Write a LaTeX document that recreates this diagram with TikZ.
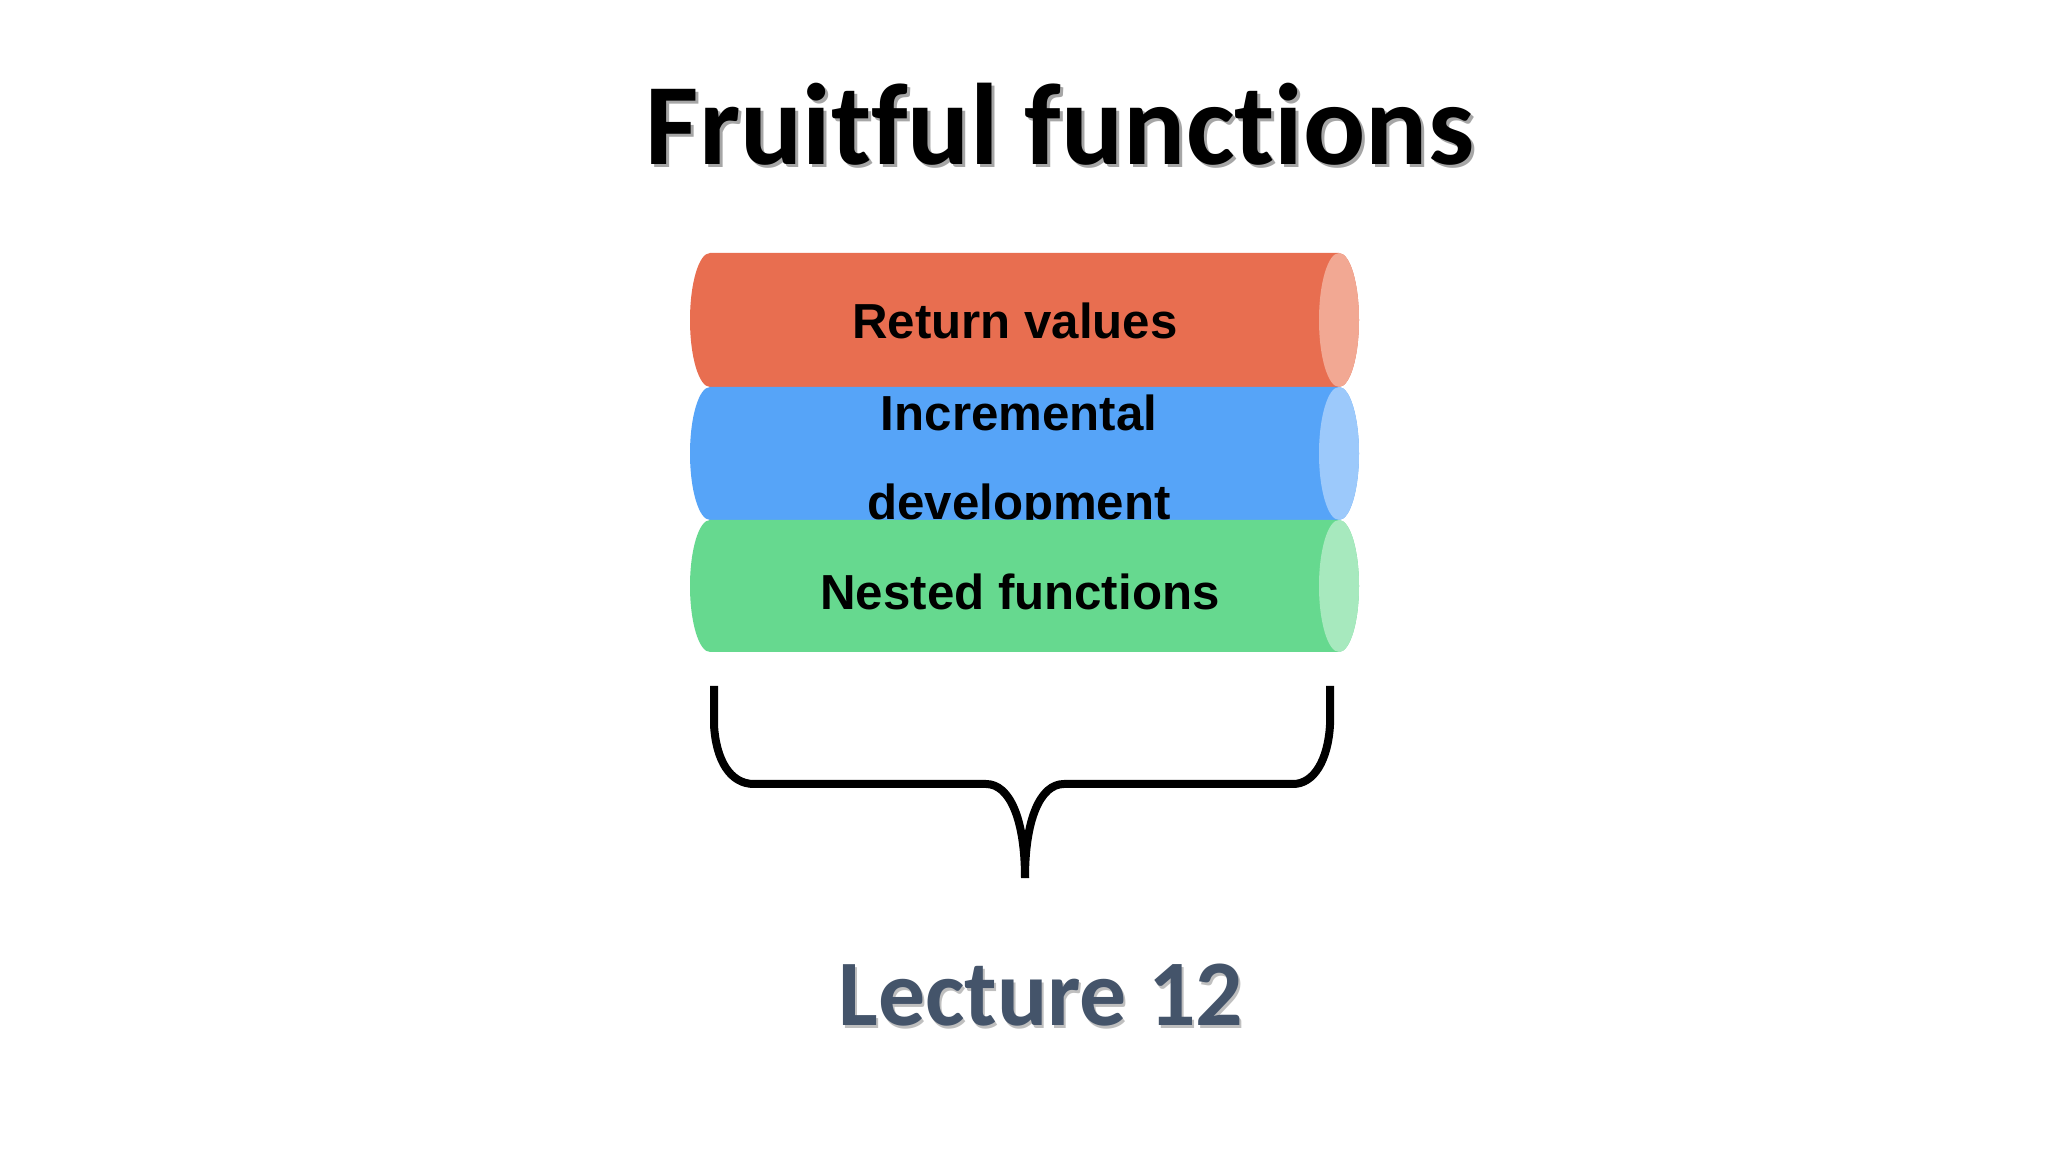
\documentclass[tikz,border=0pt]{standalone}
\usepackage{fontspec}
\setmainfont{Carlito}[Ligatures=NoCommon]
\newfontfamily\arialb{Liberation Sans}[BoldFont={* Bold}]
\begin{document}
\begin{tikzpicture}
\definecolor{cred}{HTML}{E86E50}\definecolor{credl}{HTML}{F2A893}
\definecolor{cblue}{HTML}{56A4F8}\definecolor{cbluel}{HTML}{9CC9FB}
\definecolor{cgreen}{HTML}{66D98F}\definecolor{cgreenl}{HTML}{A7E9BE}
\definecolor{lec}{HTML}{44546A}
\tikzset{lbl/.style={font=\arialb\bfseries\fontsize{14}{17}\selectfont, text=black},
 brace/.style={line width=0.08cm, line join=round}}
\useasboundingbox (0,0) rectangle (20.48,-11.52);
\fill[white] (0,0) rectangle (20.48,-11.52);
% title
\node[text=black!35, font=\bfseries\fontsize{33}{38}\selectfont] at (10.63,-1.27) {Fruitful functions};
\node (title) [font=\bfseries\fontsize{33}{38}\selectfont] at (10.60,-1.24) {Fruitful functions};
% cylinders
\newcommand{\cyl}[4]{%
 \fill[#3] (7.10,#1) -- (13.39,#1) arc[start angle=90,end angle=-90,x radius=0.2,y radius={(#1-(#2))/2}] -- (7.10,#2) arc[start angle=270,end angle=90,x radius=0.2,y radius={(#1-(#2))/2}] -- cycle;
 \fill[#4] (13.39,{(#1+#2)/2}) ellipse[x radius=0.2,y radius={(#1-(#2))/2}];}
\cyl{-2.53}{-3.87}{cred}{credl}
\node (r) [lbl] at (10.15,-3.21) {Return values};
\cyl{-3.87}{-5.20}{cblue}{cbluel}
\node (i1) [lbl] at (10.19,-4.13) {Incremental};
\node (i2) [lbl] at (10.19,-5.07) {development};
\cyl{-5.20}{-6.52}{cgreen}{cgreenl}
\node (n) [lbl] at (10.20,-5.92) {Nested functions};
% brace
\coordinate (bl) at (7.14,-6.86); \coordinate (br) at (13.30,-6.86); \coordinate (tip) at (10.25,-8.78);
\draw[brace] (bl) -- (7.14,-7.25) .. controls (7.16,-7.60) and (7.30,-7.84) .. (7.54,-7.84) -- (9.86,-7.84)
 .. controls (10.10,-7.84) and (10.25,-8.20) .. (tip);
\draw[brace] (br) -- (13.30,-7.25) .. controls (13.28,-7.60) and (13.14,-7.84) .. (12.93,-7.84) -- (10.64,-7.84)
 .. controls (10.40,-7.84) and (10.25,-8.20) .. (tip);
% lecture
\node[text=black!25, font=\bfseries\fontsize{26.7}{31}\selectfont] at (10.43,-9.98) {Lecture 12};
\node (lec) [text=lec, font=\bfseries\fontsize{26.7}{31}\selectfont] at (10.41,-9.95) {Lecture 12};
\end{tikzpicture}
\end{document}
